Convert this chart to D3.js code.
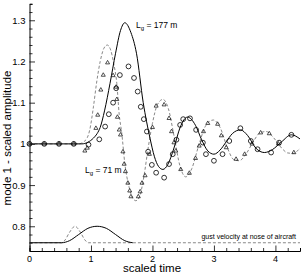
<!DOCTYPE html>
<html>
<head>
<meta charset="utf-8">
<script src="https://cdn.jsdelivr.net/npm/d3@7"></script>
<style>
  body { margin: 0; background: #fff; }
  text { font-family: "Liberation Sans", Arial, sans-serif; }
</style>
</head>
<body>
<div id="chart"></div>
<script>
// response for gust length 177 m (solid) and 71 m (dashed)
const solidT = [0, 0.85, 0.95, 1.04, 1.1, 1.15, 1.22, 1.31, 1.4, 1.48, 1.55, 1.65, 1.74, 1.85, 1.96, 2.03, 2.1, 2.17, 2.25, 2.35, 2.45, 2.57, 2.7, 2.8, 2.9, 3.0, 3.1, 3.2, 3.3, 3.43, 3.55, 3.68, 3.82, 3.95, 4.1, 4.26, 4.4];
const solidV = [1, 1, 1.004, 1.014, 1.025, 1.04, 1.08, 1.147, 1.22, 1.275, 1.294, 1.27, 1.22, 1.1, 1.014, 0.97, 0.945, 0.938, 0.95, 0.99, 1.04, 1.065, 1.045, 1.01, 0.983, 0.975, 0.985, 1.005, 1.025, 1.034, 1.02, 0.99, 0.979, 0.986, 1.005, 1.022, 1.012];
const dashT = [0, 0.8, 0.88, 0.94, 0.98, 1.04, 1.09, 1.15, 1.21, 1.265, 1.32, 1.37, 1.42, 1.46, 1.5, 1.55, 1.62, 1.68, 1.73, 1.79, 1.86, 1.93, 2.0, 2.08, 2.17, 2.26, 2.35, 2.45, 2.54, 2.64, 2.75, 2.87, 2.99, 3.1, 3.22, 3.32, 3.41, 3.52, 3.65, 3.75, 3.85, 3.97, 4.1, 4.2, 4.29, 4.4];
const dashV = [1, 1, 1.005, 1.015, 1.034, 1.09, 1.147, 1.2, 1.232, 1.24, 1.228, 1.195, 1.147, 1.07, 1.027, 0.953, 0.895, 0.868, 0.862, 0.872, 0.92, 0.99, 1.05, 1.095, 1.108, 1.085, 1.02, 0.945, 0.92, 0.94, 0.995, 1.045, 1.058, 1.04, 0.99, 0.962, 0.959, 0.975, 1.008, 1.027, 1.03, 1.015, 0.99, 0.978, 0.977, 0.99];

// comparison points
const circT = [0, 0.24, 0.48, 0.72, 0.96, 1.135, 1.23, 1.29, 1.36, 1.41, 1.47, 1.61, 1.7, 1.76, 1.81, 1.86, 1.91, 1.93, 1.99, 2.06, 2.19, 2.27, 2.33, 2.39, 2.45, 2.5, 2.61, 2.71, 2.82, 2.87, 3.0, 3.14, 3.25, 3.43, 3.6, 3.71, 3.93, 4.06, 4.26];
const circV = [1, 1, 1, 1, 0.998, 1.011, 1.042, 1.072, 1.1, 1.135, 1.167, 1.188, 1.16, 1.127, 1.09, 1.06, 1.03, 0.981, 0.949, 0.93, 0.918, 0.951, 0.975, 1.01, 1.046, 1.06, 1.062, 1.034, 1.003, 0.975, 0.959, 0.975, 1.007, 1.038, 1.007, 0.987, 0.979, 1.003, 1.022];
const triT = [0, 0.24, 0.48, 0.72, 0.9, 0.94, 1.08, 1.11, 1.16, 1.2, 1.27, 1.36, 1.41, 1.42, 1.43, 1.46, 1.48, 1.52, 1.54, 1.56, 1.6, 1.63, 1.65, 1.77, 1.8, 1.83, 1.88, 1.95, 2.0, 2.06, 2.19, 2.27, 2.31, 2.35, 2.38, 2.46, 2.6, 2.7, 2.76, 2.83, 2.9, 3.06, 3.12, 3.2, 3.36, 3.5, 3.62, 3.76, 3.9, 4.05, 4.3];
const triV = [1, 1, 1, 1, 0.983, 0.99, 1.038, 1.07, 1.131, 1.167, 1.197, 1.166, 1.138, 1.108, 1.065, 1.034, 1.022, 0.981, 0.951, 0.933, 0.905, 0.886, 0.872, 0.872, 0.884, 0.905, 0.923, 0.975, 1.04, 1.092, 1.095, 1.062, 1.03, 1.003, 0.983, 0.938, 0.929, 0.965, 0.995, 1.03, 1.05, 1.048, 1.02, 0.991, 0.963, 0.975, 1.0, 1.027, 1.025, 1.0, 0.979];

// gust velocity shapes (bottom)
const gustSolidT = [0, 0.52, 0.65, 0.8, 0.95, 1.1, 1.25, 1.4, 1.55, 1.68];
const gustSolidV = [0.76, 0.76, 0.765, 0.78, 0.795, 0.8, 0.795, 0.78, 0.765, 0.76];
const gustDashT = [0, 0.52, 0.58, 0.65, 0.74, 0.83, 0.9, 0.96, 4.4];
const gustDashV = [0.76, 0.76, 0.767, 0.785, 0.8, 0.785, 0.767, 0.76, 0.76];

const xTicks = [0, 1, 2, 3, 4];
const yTicks = [0.8, 0.9, 1, 1.1, 1.2, 1.3];

const ancho = 302, alto = 273;
const x = d3.scaleLinear().domain([0, 4.4]).range([29.5, 300]);
const y = d3.scaleLinear().domain([0.74, 1.34]).range([251, 3.8]);

const svg = d3.select("#chart").append("svg")
  .attr("width", ancho)
  .attr("height", alto);

const pares = (ts, vs) => ts.map((t, i) => [t, vs[i]]);
const linea = d3.line()
  .x(d => x(d[0]))
  .y(d => y(d[1]))
  .curve(d3.curveMonotoneX);

// EJES: ticks hacia dentro
const ejeX = svg.append("g").attr("transform", `translate(0, ${y(0.74)})`);
ejeX.call(d3.axisBottom(x).tickValues(d3.range(0, 4.41, 0.2)).tickSize(-3).tickFormat(""));
ejeX.call(g => g.selectAll(".tick").filter(d => Math.abs(d - Math.round(d)) < 1e-6)
  .select("line").attr("y2", -5.5));
ejeX.append("g").selectAll("text").data(xTicks).join("text")
  .attr("x", d => x(d)).attr("y", 10.5)
  .attr("text-anchor", "middle").attr("font-size", 9).attr("fill", "#000")
  .text(d => d);

const ejeY = svg.append("g").attr("transform", `translate(${x(0)}, 0)`);
ejeY.call(d3.axisLeft(y).tickValues(d3.range(0.74, 1.3401, 0.02)).tickSize(-3).tickFormat(""));
ejeY.call(g => g.selectAll(".tick").filter(d => yTicks.some(v => Math.abs(v - d) < 1e-6))
  .select("line").attr("x2", 5.5));
ejeY.append("g").selectAll("text").data(yTicks).join("text")
  .attr("x", -4).attr("y", d => y(d))
  .attr("text-anchor", "end").attr("dominant-baseline", "central")
  .attr("font-size", 9.5).attr("fill", "#000")
  .text(d => d);

[ejeX, ejeY].forEach(e => {
  e.select(".domain").attr("stroke", "#000").attr("stroke-width", 1);
  e.selectAll(".tick line").attr("stroke", "#000").attr("stroke-width", 0.8);
});

// CURVAS
svg.append("path").datum(pares(dashT, dashV))
  .attr("d", linea).attr("fill", "none")
  .attr("stroke", "#888").attr("stroke-width", 1).attr("stroke-dasharray", "3,2");
svg.append("path").datum(pares(solidT, solidV))
  .attr("d", linea).attr("fill", "none")
  .attr("stroke", "#000").attr("stroke-width", 1);

svg.append("path").datum(pares(gustDashT, gustDashV))
  .attr("d", linea).attr("fill", "none")
  .attr("stroke", "#888").attr("stroke-width", 1).attr("stroke-dasharray", "3,2");
svg.append("path").datum(pares(gustSolidT, gustSolidV))
  .attr("d", linea).attr("fill", "none")
  .attr("stroke", "#000").attr("stroke-width", 1);

// MARCADORES
svg.append("g").selectAll("path").data(pares(triT, triV)).join("path")
  .attr("transform", d => `translate(${x(d[0])}, ${y(d[1])})`)
  .attr("d", d3.symbol(d3.symbolTriangle, 7))
  .attr("fill", "none").attr("stroke", "#222").attr("stroke-width", 0.8);
svg.append("g").selectAll("circle").data(pares(circT, circV)).join("circle")
  .attr("cx", d => x(d[0])).attr("cy", d => y(d[1])).attr("r", 2.4)
  .attr("fill", "none").attr("stroke", "#000").attr("stroke-width", 0.8);

// TEXTOS
const etiqueta = (tx, ty, valor) => {
  const t = svg.append("text").attr("x", tx).attr("y", ty)
    .attr("font-size", 8.5).attr("fill", "#000");
  t.append("tspan").text("L");
  t.append("tspan").attr("font-size", 6).attr("dy", 2).text("g");
  t.append("tspan").attr("dy", -2).text(` = ${valor} m`);
};
etiqueta(136, 28, 177);
etiqueta(85, 173, 71);

svg.append("text").attr("x", 296).attr("y", 239)
  .attr("text-anchor", "end").attr("font-size", 7).attr("fill", "#000")
  .text("gust velocity at nose of aircraft");

svg.append("text").attr("x", 152).attr("y", 272)
  .attr("text-anchor", "middle").attr("font-size", 11.5).attr("fill", "#000")
  .text("scaled time");
svg.append("text")
  .attr("transform", `translate(11, 138) rotate(-90)`)
  .attr("text-anchor", "middle").attr("font-size", 11.5).attr("fill", "#000")
  .text("mode 1 - scaled amplitude");
</script>
</body>
</html>
